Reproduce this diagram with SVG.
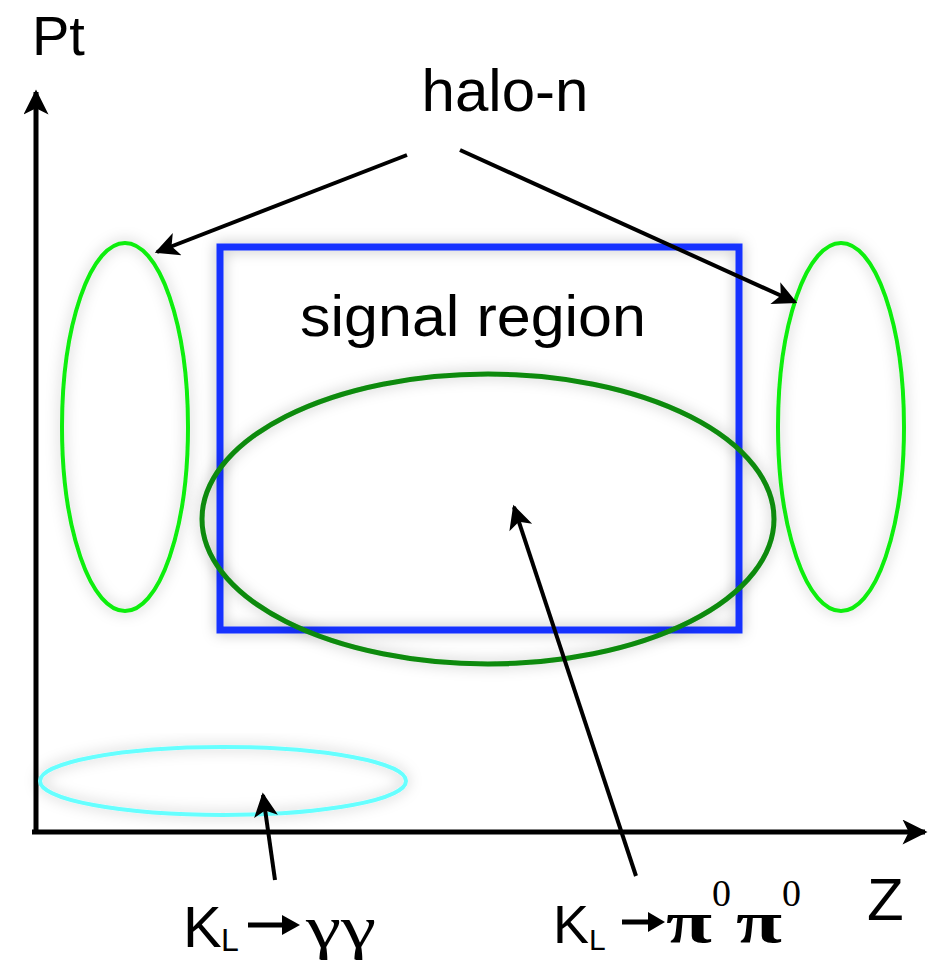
<svg xmlns="http://www.w3.org/2000/svg" width="943" height="960" viewBox="0 0 943 960">
<style>
.lbl{font-family:"Liberation Sans",Arial,sans-serif;fill:#000}
.ser{font-family:"Liberation Serif","Times New Roman",serif;fill:#000}
.conn{stroke:#000;stroke-width:4;fill:none}
.axis{stroke:#000;stroke-width:5;fill:none}
.shape{fill:none;filter:url(#glow)}
</style>
<defs>
<filter id="glow" x="-20%" y="-20%" width="140%" height="140%">
<feGaussianBlur in="SourceAlpha" stdDeviation="7" result="b"/>
<feFlood flood-color="#000" flood-opacity="0.28"/>
<feComposite in2="b" operator="in" result="s"/>
<feMerge><feMergeNode in="s"/><feMergeNode in="SourceGraphic"/></feMerge>
</filter>
<marker id="ah" viewBox="0 0 10 10" refX="9" refY="5" markerWidth="7" markerHeight="6" markerUnits="strokeWidth" orient="auto">
<path d="M0,0 L10,5 L0,10 L2.5,5 Z" fill="#000"/>
</marker>
<marker id="axh" viewBox="0 0 10 10" refX="9" refY="5" markerWidth="5.5" markerHeight="5" markerUnits="strokeWidth" orient="auto">
<path d="M0,0 L10,5 L0,10 L2.5,5 Z" fill="#000"/>
</marker>
</defs>
<g id="axes">
<line class="axis" x1="36" y1="834" x2="36" y2="92" marker-end="url(#axh)"/>
<line class="axis" x1="32" y1="832" x2="925" y2="832" marker-end="url(#axh)"/>
<text class="lbl" x="32" y="55" font-size="56">Pt</text>
<text class="lbl" x="867" y="920" font-size="60">Z</text>
</g>
<g id="halo-left"><ellipse class="shape" cx="125" cy="427" rx="63" ry="184" stroke="#11ee11" stroke-width="4"/></g>
<g id="halo-right"><ellipse class="shape" cx="841" cy="427" rx="63" ry="184" stroke="#11ee11" stroke-width="4"/></g>
<g id="signal-region">
<rect class="shape" x="220" y="247" width="519" height="383" stroke="#1530ff" stroke-width="7"/>
<text class="lbl" x="473" y="336" font-size="58" text-anchor="middle" textLength="346" lengthAdjust="spacingAndGlyphs">signal region</text>
</g>
<g id="kl-pi0pi0-region"><ellipse class="shape" cx="488" cy="519" rx="286" ry="145" stroke="#0a8a0a" stroke-width="5"/></g>
<g id="kl-gg-region"><ellipse class="shape" cx="223" cy="781" rx="183" ry="34" stroke="#66ffff" stroke-width="4"/></g>
<g id="halo-n-label"><text class="lbl" x="505" y="111" font-size="60" text-anchor="middle">halo-n</text></g>
<g id="kl-gg-label">
<text class="lbl" font-size="58"><tspan x="183" y="947">K</tspan><tspan x="221" y="951" font-size="32">L</tspan></text>
<line x1="248" y1="925" x2="286" y2="925" stroke="#000" stroke-width="5"/>
<path d="M282,915 L300,925 L282,935 Z" fill="#000"/>
<text class="ser" x="306" y="947" font-size="60" textLength="70" lengthAdjust="spacingAndGlyphs">γγ</text>
</g>
<g id="kl-pi0pi0-label">
<text class="lbl" font-size="54"><tspan x="553" y="943">K</tspan><tspan x="589" y="950" font-size="30">L</tspan></text>
<line x1="622" y1="922" x2="652" y2="922" stroke="#000" stroke-width="5"/>
<path d="M648,912 L665,922 L648,932 Z" fill="#000"/>
<text class="ser" x="666" y="942" font-size="60" font-weight="bold" textLength="46" lengthAdjust="spacingAndGlyphs">π</text>
<text class="ser" x="712" y="906" font-size="38">0</text>
<text class="ser" x="736" y="942" font-size="60" font-weight="bold" textLength="46" lengthAdjust="spacingAndGlyphs">π</text>
<text class="ser" x="782" y="906" font-size="38">0</text>
</g>
<g id="connectors">
<line class="conn" x1="407" y1="155" x2="157" y2="252" marker-end="url(#ah)"/>
<line class="conn" x1="460" y1="150" x2="795" y2="302" marker-end="url(#ah)"/>
<line class="conn" x1="636" y1="876" x2="514" y2="507" marker-end="url(#ah)"/>
<line class="conn" x1="275" y1="880" x2="263" y2="795" marker-end="url(#ah)"/>
</g>
</svg>
